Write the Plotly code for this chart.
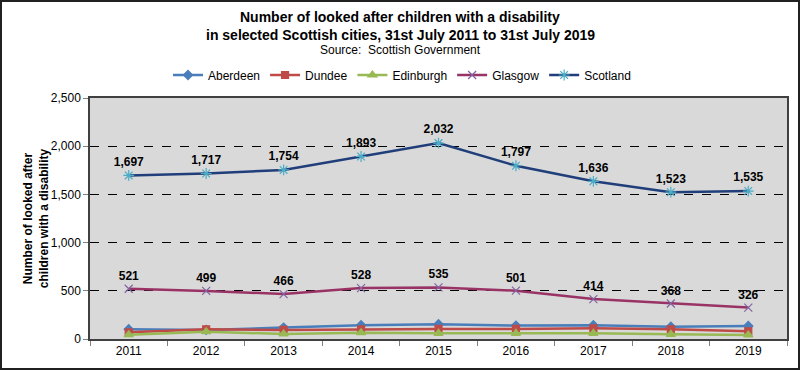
import plotly.graph_objects as go

years = ["2011", "2012", "2013", "2014", "2015", "2016", "2017", "2018", "2019"]
aberdeen = [101, 94, 118, 143, 153, 139, 143, 128, 135]
dundee = [70, 100, 94, 101, 104, 104, 111, 101, 80]
edinburgh = [45, 76, 52, 66, 59, 59, 59, 49, 42]
glasgow = [521, 499, 466, 528, 535, 501, 414, 368, 326]
scotland = [1697, 1717, 1754, 1893, 2032, 1797, 1636, 1523, 1535]
y_ticks = [0, 500, 1000, 1500, 2000, 2500]

FONT = "Liberation Sans, Arial, sans-serif"

fig = go.Figure()

def add(name, vals, color, sym, mcolor, msize, width, labels=False):
    fig.add_trace(go.Scatter(
        x=years, y=vals, name=name,
        mode="lines+markers+text" if labels else "lines+markers",
        line=dict(color=color, width=width),
        marker=dict(symbol=sym, size=msize, color=mcolor,
                    line=dict(color=mcolor, width=1.2)),
        text=[f"{v:,}" for v in vals] if labels else None,
        textposition="top center",
        textfont=dict(family=FONT, size=12, color="black", weight="bold"),
        cliponaxis=False,
    ))

add("Aberdeen", aberdeen, "#4A7EBB", "diamond", "#4A7EBB", 7, 2.5)
add("Dundee", dundee, "#BE4B48", "square", "#BE4B48", 7, 2.5)
add("Edinburgh", edinburgh, "#98B954", "triangle-up", "#98B954", 8, 2.5)
add("Glasgow", glasgow, "#993366", "x-thin-open", "#8064A2", 8, 2.5, labels=True)
add("Scotland", scotland, "#1F3E7A", "asterisk-open", "#4BACC6", 9, 2.5, labels=True)

W, H = 800, 370
ml, mr, mt, mb = 90, 13, 98, 31
pw, ph = W - ml - mr, H - mt - mb

def px(x):
    return (x - ml) / pw

def py(y):
    return (H - mb - y) / ph

annotations = [
    dict(text="<b>Number of looked after children with a disability</b>", x=px(400), y=py(17)),
    dict(text="<b>in selected Scottish cities, 31st July 2011 to 31st July 2019</b>", x=px(400), y=py(35)),
    dict(text="Source:  Scottish Government", x=px(400), y=py(50), font=dict(family=FONT, size=12, color="black")),
]
for a in annotations:
    a.update(xref="paper", yref="paper", xanchor="center", yanchor="middle", showarrow=False)
    a.setdefault("font", dict(family=FONT, size=14, color="black"))

fig.update_layout(
    width=W, height=H,
    margin=dict(l=ml, r=mr, t=mt, b=mb, autoexpand=False),
    paper_bgcolor="white",
    plot_bgcolor="#D9D9D9",
    font=dict(family=FONT, size=12, color="black"),
    annotations=annotations,
    legend=dict(orientation="h", x=px(402), xanchor="center", y=py(75),
                yanchor="middle", font=dict(family=FONT, size=12),
                itemwidth=30, tracegroupgap=0, bgcolor="rgba(0,0,0,0)"),
    showlegend=True,
    xaxis=dict(
        type="category", range=[-0.5, 8.5],
        showline=True, linecolor="#404040", linewidth=1.5, mirror=True,
        ticks="outside", tickson="boundaries", ticklen=5, tickcolor="#808080",
        showgrid=False, tickfont=dict(size=12),
    ),
    yaxis=dict(
        range=[0, 2500], tickvals=y_ticks, tickformat=",",
        showline=True, linecolor="#404040", linewidth=1.5, mirror=True,
        ticks="outside", ticklen=5, tickcolor="#808080",
        showgrid=True, gridcolor="black", griddash="dash", gridwidth=1,
        zeroline=False, tickfont=dict(size=12),
        title=dict(text="<b>Number of looked after<br>children with a disability</b>",
                   font=dict(size=12), standoff=0),
    ),
    shapes=[dict(type="rect", xref="paper", yref="paper",
                 x0=(1 - ml) / pw, x1=(W - 1 - ml) / pw,
                 y0=-(mb - 1) / ph, y1=(ph + mt - 1) / ph,
                 line=dict(color="#202020", width=2), layer="above")],
)

fig.write_html("out.html", config={"displayModeBar": False},
               post_script="document.body.style.margin='0';")
